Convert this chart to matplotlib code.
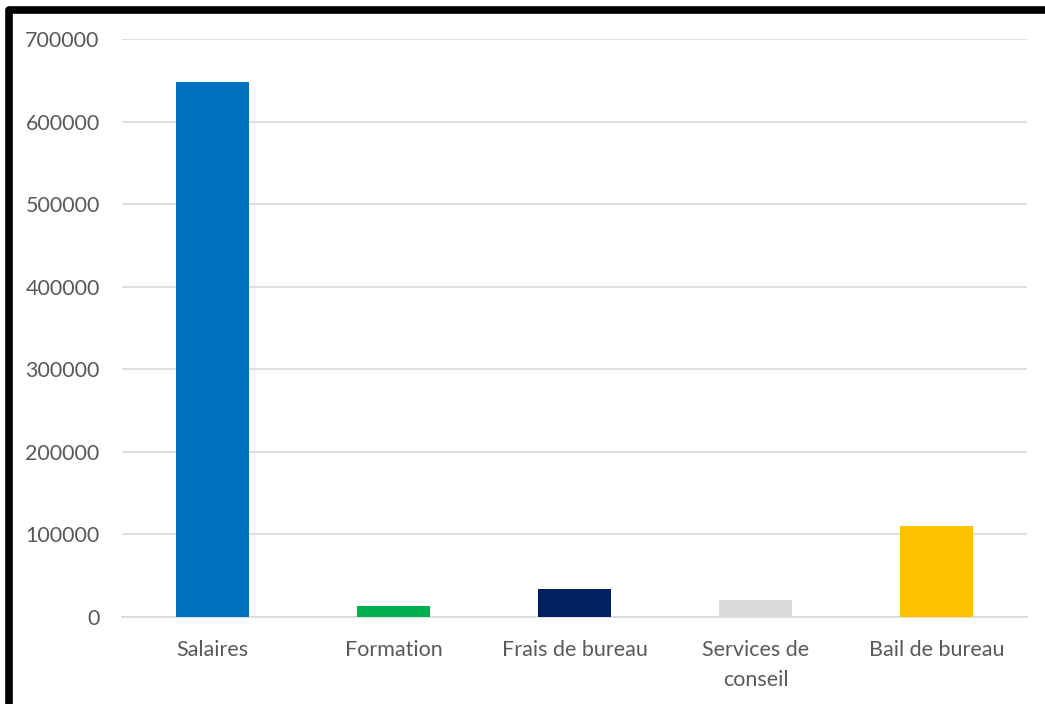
import matplotlib.pyplot as plt
from matplotlib.lines import Line2D

categories = ["Salaires", "Formation", "Frais de bureau", "Services de\nconseil", "Bail de bureau"]
values = [648000, 13000, 33500, 20000, 110000]
colors = ["#0070C0", "#00B050", "#002060", "#D9D9D9", "#FFC000"]

plt.rcParams['font.family'] = ['Lato', 'DejaVu Sans']

fig = plt.figure(figsize=(10.45, 7.04), dpi=100)
ax = fig.add_axes([0.1167, 0.124, 0.983 - 0.1167, 0.9446 - 0.124])

ax.bar(range(len(categories)), values, width=0.4, color=colors, zorder=3)
ax.set_xlim(-0.5, len(categories) - 0.5)
ax.set_ylim(0, 700000)
ax.set_yticks(range(0, 700001, 100000))
ax.set_xticks(range(len(categories)))
ax.set_xticklabels(categories, linespacing=1.6)
ax.grid(axis="y", color="#D9D9D9", linewidth=1.2, zorder=0)
for s in ["top", "right", "left"]:
    ax.spines[s].set_visible(False)
ax.spines["bottom"].set_color("#D9D9D9")
ax.spines["bottom"].set_linewidth(1.2)
ax.tick_params(axis="both", length=0, colors="#595959", labelsize=15.5)
ax.tick_params(axis="y", pad=16)
ax.tick_params(axis="x", pad=17)

# black frame, only top and left visible
fig.add_artist(Line2D([8.5 / 1045, 8.5 / 1045, 1.01], [-0.01, 1 - 10 / 704, 1 - 10 / 704],
                      transform=fig.transFigure, color="black", linewidth=5.5,
                      solid_joinstyle="round"))

fig.savefig("out.png", dpi=100)
